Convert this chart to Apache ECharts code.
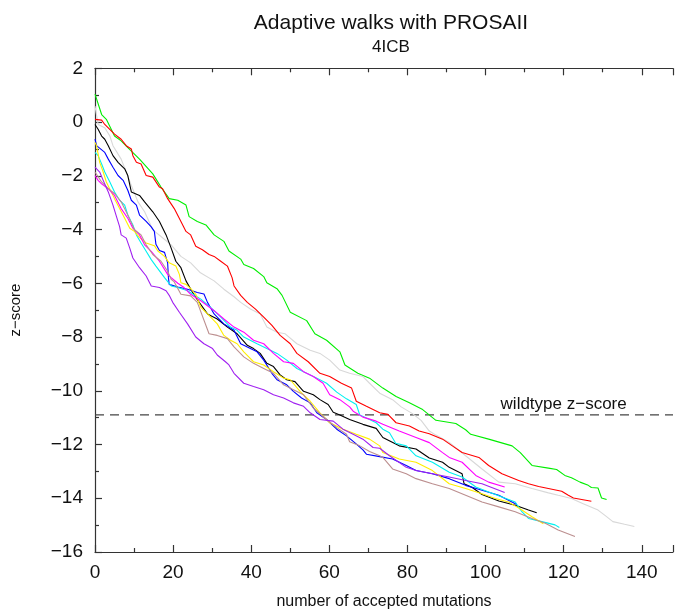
<!DOCTYPE html>
<html>
<head>
<meta charset="utf-8">
<script src="https://cdn.jsdelivr.net/npm/echarts@6/dist/echarts.min.js"></script>
<style>html,body{margin:0;padding:0;background:#fff}#c{width:676px;height:615px}</style>
</head>
<body>
<div id="c"></div>
<script>
const xTicks = [0, 20, 40, 60, 80, 100, 120, 140];
const yTicks = [2, 0, -2, -4, -6, -8, -10, -12, -14, -16];
const wildtype = -10.9;

const green = [[0,1.04],[1.7,0.28],[2.9,0.1],[5,-0.52],[6.7,-0.7],[8.4,-0.95],[11.4,-1.38],[14.8,-1.93],[16.9,-2.42],[19,-2.85],[21.2,-2.91],[23.3,-3.09],[24.1,-3.52],[26.2,-3.7],[28.4,-3.83],[30.5,-4.2],[33,-4.44],[34.3,-4.8],[37.3,-5.1],[38.1,-5.3],[40.6,-5.45],[43.2,-5.75],[44,-5.98],[46.6,-6.2],[47.9,-6.45],[50,-7.08],[54.2,-7.39],[56.3,-7.88],[59.3,-8.12],[62.7,-8.55],[64,-9.04],[67.3,-9.35],[70.3,-9.53],[73.7,-9.9],[77.1,-10.21],[80.5,-10.45],[83.9,-10.7],[87.3,-11.1],[92.4,-11.22],[94.9,-11.45],[96.2,-11.62],[100.8,-11.8],[106.8,-12.05],[108.9,-12.3],[111.9,-12.78],[116.1,-12.88],[118.2,-12.93],[120.3,-13.15],[122,-13.24],[124.2,-13.4],[126.3,-13.52],[127.1,-13.6],[128.8,-13.62],[129.7,-13.99],[131,-14.05]];
const red = [[0,0.1],[1.7,0.07],[2.5,-0.09],[5,-0.45],[6.7,-0.64],[8,-0.88],[9.3,-1.0],[9.7,-1.25],[10.6,-1.5],[11.8,-1.56],[13.1,-1.99],[14.8,-2.05],[16.5,-2.42],[17.3,-2.48],[18.6,-2.85],[20.3,-3.22],[22,-3.7],[23.3,-4.07],[24.5,-4.2],[25.8,-4.62],[27.5,-4.75],[29.2,-4.93],[30.5,-5.0],[32.2,-5.18],[33.9,-5.36],[35.1,-5.79],[35.6,-6.1],[37.3,-6.45],[39,-6.71],[41.1,-6.96],[43.2,-7.26],[45.3,-7.57],[47.4,-7.94],[50,-8.25],[51.7,-8.61],[54.6,-8.92],[57.6,-9.35],[60.1,-9.47],[63.1,-9.72],[65.7,-9.9],[66.9,-10.39],[69.5,-10.58],[72.9,-10.82],[75,-10.88],[77.1,-11.19],[80.5,-11.31],[83,-11.5],[85.6,-11.6],[89,-11.8],[91.5,-12.05],[94,-12.3],[98.3,-12.48],[100.8,-12.78],[104.2,-13.09],[108.5,-13.34],[111,-13.46],[113.6,-13.56],[119.5,-13.74],[121.2,-13.89],[122.5,-13.99],[127.1,-14.11]];
const black = [[0,-0.09],[0.8,-0.27],[1.7,-0.52],[2.5,-0.64],[3.4,-0.88],[4.6,-1.25],[5.9,-1.5],[7.6,-1.74],[8.4,-1.99],[9.3,-2.6],[11.4,-2.73],[12.7,-2.97],[14.8,-3.34],[16.5,-3.7],[18.2,-4.2],[19.5,-4.69],[20.7,-5.18],[22,-5.42],[23.3,-5.91],[25,-6.34],[25.8,-6.53],[28.8,-7.14],[31.3,-7.33],[33.9,-7.63],[36.4,-7.88],[39,-8.31],[40.6,-8.43],[42.3,-8.61],[44,-8.98],[45.7,-9.1],[47.4,-9.41],[49.1,-9.59],[51.2,-9.66],[53.4,-10.02],[55.9,-10.15],[57.6,-10.33],[59.7,-10.51],[61,-10.8],[62.7,-10.9],[65.2,-11.07],[68.6,-11.25],[72,-11.4],[73.7,-11.74],[77.9,-12.05],[82.2,-12.17],[85.6,-12.5],[89,-12.66],[90.7,-12.85],[94,-13.09],[94.5,-13.46],[96.6,-13.6],[99.1,-13.86],[103.4,-14.1],[107.6,-14.26],[111,-14.44],[113.1,-14.54]];
const gray = [[0,0.59],[0.8,-0.09],[2.5,-0.21],[3.8,-0.52],[4.6,-0.88],[6.7,-1.38],[8,-1.86],[9.3,-2.36],[11,-2.97],[12.7,-3.34],[14.8,-4.01],[16.9,-4.26],[19.5,-4.57],[22,-5.0],[24.5,-5.24],[27,-5.61],[30.5,-5.91],[33,-6.22],[35.6,-6.5],[37.3,-6.71],[39.8,-6.96],[42.3,-7.14],[44,-7.63],[46.6,-7.82],[48.7,-7.88],[51.7,-8.25],[55.1,-8.49],[57.6,-8.61],[60.1,-8.86],[62.7,-9.23],[65.2,-9.35],[68.6,-9.47],[70.3,-9.72],[72.9,-10.09],[76.2,-10.33],[78.4,-10.6],[81.3,-10.85],[83.5,-11.1],[85.6,-11.5],[87.3,-11.65],[90.7,-11.92],[94.9,-12.42],[99.1,-12.91],[103.4,-13.4],[107.6,-13.46],[111.9,-13.64],[116.1,-13.8],[118.6,-13.89],[122,-14.01],[125,-14.2],[128.8,-14.44],[130.5,-14.63],[132.6,-14.87],[135.6,-14.97],[138.1,-15.05]];
const blue = [[0,-0.64],[0.4,-0.88],[2.5,-1.13],[3.4,-1.38],[4.6,-1.68],[5.9,-1.99],[7.2,-2.17],[8.4,-2.54],[9.3,-2.91],[10.6,-3.09],[11.4,-3.46],[13.1,-3.7],[14.4,-3.9],[15.2,-4.07],[15.6,-4.55],[16.5,-4.78],[17.8,-4.85],[18.6,-5.24],[18.8,-5.79],[19,-6.04],[21.2,-6.14],[23.7,-6.22],[26.2,-6.34],[27.9,-6.4],[28.8,-6.71],[30.5,-7.14],[33,-7.51],[35.6,-7.75],[37.3,-8.25],[39,-8.37],[41.5,-8.55],[43.2,-8.86],[45.3,-9.35],[46.6,-9.59],[49.1,-9.78],[50.8,-10.02],[52.9,-10.27],[55.1,-10.45],[56.8,-10.82],[59.3,-11.07],[61.9,-11.43],[64.4,-11.68],[66.5,-11.93],[68.6,-12.2],[69.5,-12.36],[72.9,-12.45],[76.2,-12.54],[79.7,-12.78],[82.2,-12.97],[86.4,-13.09],[90.7,-13.27],[94.9,-13.52],[99.1,-13.7],[103.4,-13.89],[108,-14.23]];
const cyan = [[0,-1.13],[0.8,-1.25],[1.7,-1.56],[2.5,-1.86],[3.8,-2.23],[5,-2.6],[6.3,-2.91],[7.6,-3.09],[8.4,-3.46],[9.7,-3.83],[10.6,-4.2],[11.8,-4.5],[13.1,-4.81],[14.4,-5.12],[15.6,-5.36],[17.8,-5.79],[19.5,-6.1],[21.2,-6.16],[23.7,-6.28],[27.1,-6.59],[29.6,-6.9],[32.2,-7.26],[34.7,-7.63],[36.4,-7.75],[38.1,-8.0],[41.5,-8.25],[44,-8.43],[46.6,-8.61],[49.1,-8.86],[51.7,-9.17],[54.2,-9.35],[56.8,-9.53],[59.3,-9.72],[61.9,-10.05],[64.4,-10.3],[66.9,-10.51],[67.8,-10.9],[70.3,-11.07],[72,-11.19],[73.7,-11.43],[75.4,-11.56],[77,-11.95],[79.7,-12.05],[82.2,-12.42],[86.4,-12.66],[90.7,-13.03],[94,-13.21],[97.5,-13.58],[100.8,-13.77],[104.2,-13.95],[107.6,-14.14],[109.3,-14.5],[111,-14.75],[114.4,-14.87],[117.8,-14.99],[118.9,-15.09]];
const yellow = [[0,-0.76],[0.4,-0.88],[1.2,-1.5],[2.1,-1.86],[2.9,-2.23],[5,-2.85],[6.3,-3.22],[7.6,-3.58],[8.9,-3.95],[10.1,-4.07],[11.4,-4.3],[13.1,-4.5],[15.2,-4.6],[16.1,-4.8],[17.8,-5.0],[19,-5.24],[20.7,-5.36],[21.6,-5.67],[22,-5.98],[23.3,-6.04],[24.5,-6.2],[25.8,-6.41],[27.1,-6.9],[28.8,-7.14],[31.3,-7.51],[33,-7.94],[34.7,-8.12],[36.4,-8.25],[38.1,-8.55],[40.6,-8.92],[43.2,-9.04],[45.7,-9.29],[48.3,-9.53],[50,-9.59],[52.5,-10.02],[55.1,-10.39],[57.6,-10.82],[60.1,-11.19],[63.5,-11.43],[66.9,-11.62],[70.3,-11.8],[72.9,-12.05],[73.7,-12.3],[77.9,-12.54],[82.2,-12.66],[86.4,-12.97],[90.7,-13.46],[94.9,-13.64],[99.1,-13.83],[102.5,-14.01],[105.9,-14.14],[108,-14.32],[109.3,-14.44],[112,-14.7],[114.8,-14.95]];
const magenta = [[0,-1.99],[0.8,-2.17],[1.7,-2.3],[3.4,-2.48],[5,-2.73],[6.7,-3.22],[8.4,-3.58],[9.7,-3.95],[11.4,-4.2],[12.7,-4.57],[14.4,-4.81],[16.5,-5.18],[18.6,-5.67],[19.5,-5.79],[21.2,-6.0],[22.8,-6.16],[24.5,-6.41],[27.1,-6.65],[30.5,-7.02],[33,-7.33],[35.6,-7.63],[38.1,-7.82],[40.6,-8.12],[43.2,-8.25],[45.7,-8.61],[48.3,-8.92],[50.8,-8.98],[53.4,-9.29],[55.9,-9.47],[58.4,-9.72],[60.1,-10.15],[62.7,-10.33],[65.2,-10.6],[66.1,-10.76],[68.6,-10.98],[72,-11.13],[73.7,-11.25],[77.9,-11.5],[82.2,-11.74],[85.6,-11.93],[89,-12.3],[90.7,-12.48],[94,-12.66],[97.5,-13.15],[100.8,-13.4],[104.9,-13.58]];
const brown = [[0,-1.86],[1.7,-2.23],[3.4,-2.48],[5,-2.66],[6.7,-2.97],[8.4,-3.46],[10.1,-4.01],[11.8,-4.2],[13.1,-4.57],[14.8,-4.93],[16.9,-5.18],[18.6,-5.55],[19.5,-5.85],[20.3,-5.95],[22,-6.41],[24.5,-6.47],[26.2,-6.71],[29.2,-7.88],[31.3,-7.94],[33.9,-8.06],[35.6,-8.37],[38.1,-8.74],[40.6,-8.98],[43.2,-9.17],[45.7,-9.35],[48.3,-9.78],[50.8,-9.96],[53.4,-10.15],[55.9,-10.64],[59.3,-11.07],[61.9,-11.37],[64.4,-11.62],[65.2,-11.9],[67.8,-12.05],[70.3,-12.26],[72.9,-12.42],[73.7,-12.48],[76.2,-12.91],[79.7,-13.09],[82.2,-13.27],[86.4,-13.46],[90.7,-13.64],[94.9,-13.89],[99.1,-14.14],[103.4,-14.32],[107.6,-14.5],[111.9,-14.75],[115.3,-14.93],[118.6,-15.18],[122.9,-15.42]];
const purple = [[0,-1.68],[1.2,-1.86],[2.1,-2.17],[3.4,-2.6],[4.6,-3.09],[5.5,-3.52],[6.3,-3.89],[6.7,-4.2],[8,-4.32],[8.9,-4.69],[9.7,-5.06],[11.4,-5.42],[13.1,-5.73],[14.4,-6.1],[16.5,-6.16],[18.2,-6.28],[19,-6.45],[19.9,-6.71],[21.6,-7.08],[23.7,-7.51],[25.8,-8.0],[27.9,-8.25],[30.1,-8.43],[31.3,-8.67],[33.4,-8.92],[34.3,-9.04],[35.6,-9.35],[38.1,-9.72],[40.6,-9.84],[43.2,-9.96],[45.7,-10.15],[48.3,-10.27],[50.8,-10.45],[53.4,-10.58],[55.1,-10.82],[57.6,-11.07],[61,-11.13],[63.5,-11.43],[66.1,-11.62],[68.6,-11.8],[71.2,-12.11],[72.9,-12.14],[75.4,-12.42],[79.7,-12.85],[82.2,-12.97],[86.4,-13.09],[90.7,-13.21],[94.9,-13.34],[99.1,-13.46],[104.9,-13.79]];

const walks = [
  {name:'green', data:green, color:'#00ee00'},
  {name:'gray', data:gray, color:'#d8d8d8'},
  {name:'red', data:red, color:'#ff0000'},
  {name:'black', data:black, color:'#000000'},
  {name:'blue', data:blue, color:'#0000ff'},
  {name:'cyan', data:cyan, color:'#00f0f0'},
  {name:'yellow', data:yellow, color:'#ffee00'},
  {name:'magenta', data:magenta, color:'#ff00ff'},
  {name:'brown', data:brown, color:'#bc8f8f'},
  {name:'purple', data:purple, color:'#a020f0'}
];

const FONT = 'Liberation Sans, Arial, sans-serif';
const fmtNum = v => String(v).replace('-', '\u2212');
const xMin = 0, xMax = 148;

const chart = echarts.init(document.getElementById('c'), null, {renderer:'canvas'});
const series = walks.map(w => ({
  name: w.name, type:'line', data:w.data, xAxisIndex:0, yAxisIndex:0,
  showSymbol:false, symbol:'none', smooth:false,
  lineStyle:{color:w.color, width:1.1}, itemStyle:{color:w.color},
  animation:false, z:3
}));
series.push({
  name:'wildtype', type:'line', xAxisIndex:0, yAxisIndex:0,
  data:[[xMin, wildtype],[xMax, wildtype]],
  showSymbol:false, symbol:'none',
  lineStyle:{color:'#444', width:1.2, type:[9,6]},
  animation:false, z:2,
  markPoint:{
    symbol:'circle', symbolSize:0, animation:false,
    data:[{coord:[120, wildtype]}],
    label:{show:true, formatter:'wildtype z\u2212score', position:'top', distance:2,
      color:'#111', fontSize:17, fontFamily:FONT}
  }
});

const axisLineStyle = {color:'#333', width:1.2};
chart.setOption({
  backgroundColor:'#fff',
  animation:false,
  title:{
    text:'Adaptive walks with PROSAII',
    subtext:'4ICB',
    left:386, top:8, textAlign:'center',
    itemGap:5,
    textStyle:{fontFamily:FONT, fontSize:21, fontWeight:'normal', color:'#111'},
    subtextStyle:{fontFamily:FONT, fontSize:17, color:'#111'}
  },
  grid:{left:93.5, right:0, top:68.3, bottom:57.6, containLabel:false},
  xAxis:[{
    type:'value', min:xMin, max:xMax, interval:20, position:'bottom',
    name:'number of accepted mutations', nameLocation:'middle', nameGap:42,
    nameTextStyle:{fontFamily:FONT, fontSize:16, color:'#111'},
    axisLine:{show:true, onZero:false, lineStyle:axisLineStyle},
    axisTick:{show:true, inside:true, length:7, lineStyle:axisLineStyle},
    minorTick:{show:true, splitNumber:2, length:4, lineStyle:axisLineStyle},
    splitLine:{show:false},
    axisLabel:{fontFamily:FONT, fontSize:19, color:'#111', margin:11,
      formatter: v => xTicks.includes(v) ? fmtNum(v) : ''}
  },{
    type:'value', min:xMin, max:xMax, interval:20, position:'top',
    axisLine:{show:true, onZero:false, lineStyle:axisLineStyle},
    axisTick:{show:true, inside:true, length:7, lineStyle:axisLineStyle},
    minorTick:{show:true, splitNumber:2, length:4, lineStyle:axisLineStyle},
    splitLine:{show:false}, axisLabel:{show:false}
  }],
  yAxis:[{
    type:'value', min:-16, max:2, interval:2,
    name:'z\u2212score', nameLocation:'middle', nameGap:72, nameRotate:90,
    nameTextStyle:{fontFamily:FONT, fontSize:15, color:'#111'},
    axisLine:{show:true, onZero:false, lineStyle:axisLineStyle},
    axisTick:{show:true, inside:true, length:7, lineStyle:axisLineStyle},
    minorTick:{show:true, splitNumber:2, length:4, lineStyle:axisLineStyle},
    splitLine:{show:false},
    axisLabel:{fontFamily:FONT, fontSize:19, color:'#111', margin:12,
      formatter: v => yTicks.includes(v) ? fmtNum(v) : ''}
  }],
  series: series
});
</script>
</body>
</html>
